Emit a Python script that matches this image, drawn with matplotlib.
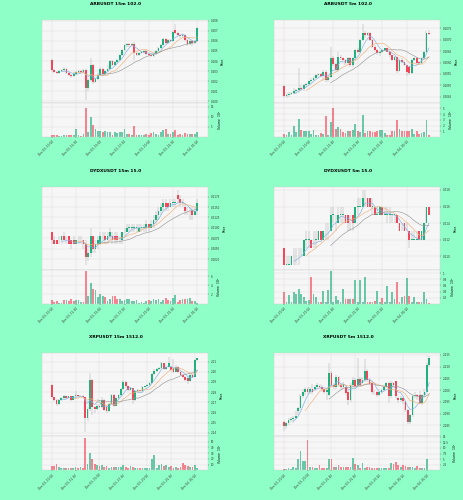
import matplotlib
matplotlib.use('Agg')
import matplotlib.pyplot as plt
import numpy as np
import pandas as pd

BG = '#8effc6'
UP = '#1fb07e'
DOWN = '#f2475a'
WICK = '#a8a8a8'
MA_COLORS = ['#82b0e0', '#efb27c', '#9a9a9a']
MA_WINDOWS = [5, 10, 20]

# ---- ARBUSDT 15m (price in 1e-4) ----
arb15_open = [2041, 2031, 2029, 2028, 2030, 2031, 2032, 2028, 2026, 2025, 2027, 2029, 2030, 2029, 2031, 2013, 2021, 2036, 2019, 2022,
              2026, 2032, 2027, 2030, 2032, 2040, 2036, 2039, 2041, 2046, 2051, 2056, 2057, 2056, 2057, 2048, 2046, 2048, 2049, 2050,
              2047, 2046, 2045, 2047, 2050, 2053, 2056, 2062, 2058, 2061, 2060, 2071, 2068, 2066, 2065, 2066, 2061, 2057, 2060, 2058, 2060]
arb15_close = [2031, 2029, 2028, 2030, 2031, 2032, 2028, 2026, 2025, 2027, 2029, 2030, 2029, 2031, 2013, 2021, 2036, 2019, 2022, 2026,
               2032, 2027, 2030, 2032, 2040, 2036, 2039, 2041, 2046, 2051, 2056, 2057, 2056, 2057, 2048, 2046, 2048, 2049, 2050, 2047,
               2046, 2045, 2047, 2050, 2053, 2056, 2062, 2058, 2061, 2060, 2069, 2068, 2066, 2065, 2066, 2061, 2057, 2060, 2058, 2060, 2073]
arb15_high = [2042, 2032, 2030, 2031, 2032, 2034, 2033, 2029, 2027, 2028, 2030, 2031, 2031, 2032, 2032, 2023, 2043, 2037, 2024, 2027,
              2034, 2033, 2031, 2036, 2041, 2041, 2040, 2042, 2047, 2052, 2057, 2058, 2058, 2058, 2059, 2049, 2049, 2050, 2051, 2051,
              2048, 2047, 2048, 2051, 2054, 2057, 2063, 2063, 2062, 2062, 2070, 2077, 2069, 2067, 2067, 2067, 2062, 2061, 2061, 2061, 2074]
arb15_low = [2030, 2028, 2027, 2027, 2029, 2030, 2027, 2025, 2023, 2024, 2026, 2028, 2028, 2028, 2001, 2010, 2020, 2017, 2018, 2021,
             2025, 2026, 2026, 2029, 2031, 2035, 2035, 2038, 2040, 2045, 2050, 2054, 2054, 2055, 2041, 2045, 2045, 2047, 2048, 2046,
             2045, 2044, 2044, 2046, 2049, 2052, 2055, 2057, 2057, 2059, 2059, 2067, 2065, 2063, 2064, 2060, 2055, 2056, 2055, 2057, 2059]
arb15_vol = [1.2, 1.2, 1.0, 0.6, 0.4, 1.0, 1.1, 1.0, 0.8, 0.9, 3.8, 1.0, 0.6, 1.5, 14.2, 2.3, 10.0, 5.8, 3.8, 3.0,
             2.8, 2.3, 3.0, 2.6, 2.3, 1.2, 2.3, 1.8, 2.7, 2.3, 4.2, 1.5, 1.5, 1.2, 5.7, 1.2, 0.9, 1.2, 1.0, 1.5,
             0.8, 2.0, 2.6, 1.5, 0.8, 2.3, 3.5, 4.2, 1.5, 1.5, 2.3, 3.3, 1.2, 1.5, 1.2, 2.2, 1.5, 1.5, 1.5, 1.5, 2.3]

# ---- ARBUSDT 5m (price in 1e-4) ----
arb5_open = [2049.6, 2045.1, 2045.6, 2046.3, 2046.5, 2047.5, 2048.1, 2049.0, 2048.5, 2050.0,
             2050.7, 2051.8, 2052.5, 2053.4, 2054.4, 2054.9, 2054.0, 2055.9, 2052.2, 2053.7,
             2062.2, 2059.3, 2056.6, 2062.5, 2061.8, 2061.0, 2059.6, 2061.8, 2058.8, 2061.8,
             2065.4, 2064.7, 2069.9, 2073.2, 2072.1, 2073.1, 2070.1, 2066.9, 2065.7, 2064.0,
             2064.7, 2065.7, 2066.2, 2064.7, 2063.2, 2061.0, 2062.5, 2056.3, 2061.3, 2060.3,
             2058.8, 2058.0, 2055.5, 2061.0, 2062.2, 2060.3, 2059.6, 2062.2, 2064.7, 2073.1]
arb5_high = [2050.0, 2046.5, 2047.0, 2047.0, 2049.0, 2048.5, 2057.4, 2050.0, 2050.5, 2051.0,
             2052.0, 2053.0, 2054.0, 2055.0, 2055.5, 2055.5, 2056.5, 2056.5, 2054.5, 2067.0,
             2063.0, 2060.0, 2064.7, 2063.5, 2062.5, 2061.5, 2062.5, 2062.5, 2062.5, 2066.0,
             2066.5, 2070.5, 2076.9, 2074.0, 2073.5, 2073.5, 2070.5, 2067.5, 2066.0, 2065.0,
             2066.0, 2066.5, 2066.5, 2065.0, 2063.5, 2063.0, 2063.0, 2062.0, 2062.0, 2060.5,
             2059.0, 2058.5, 2061.5, 2062.5, 2062.5, 2060.5, 2062.5, 2065.0, 2074.0, 2074.5]
arb5_low = [2045.0, 2044.5, 2045.0, 2045.5, 2046.0, 2046.0, 2046.5, 2047.5, 2047.5, 2049.0,
            2050.0, 2051.0, 2052.0, 2053.0, 2053.8, 2053.5, 2052.0, 2051.5, 2051.5, 2053.0,
            2058.5, 2056.0, 2056.0, 2061.0, 2060.5, 2059.0, 2059.0, 2058.0, 2058.0, 2061.0,
            2064.0, 2064.0, 2069.5, 2071.0, 2071.5, 2069.5, 2066.5, 2065.0, 2063.5, 2063.0,
            2064.0, 2065.0, 2064.5, 2062.5, 2060.5, 2060.5, 2055.5, 2056.0, 2060.0, 2058.5,
            2054.0, 2054.5, 2055.0, 2060.5, 2059.0, 2059.0, 2059.0, 2062.0, 2064.5, 2072.0]
arb5_close = [2045.1, 2045.6, 2046.3, 2046.5, 2047.5, 2048.1, 2049.0, 2048.5, 2050.0, 2050.7,
              2051.8, 2052.5, 2053.4, 2054.4, 2054.9, 2054.0, 2055.9, 2052.2, 2053.7, 2062.2,
              2059.3, 2056.6, 2062.5, 2061.8, 2061.0, 2059.6, 2061.8, 2058.8, 2061.8, 2065.4,
              2064.7, 2069.9, 2072.8, 2072.1, 2073.1, 2070.1, 2066.9, 2065.7, 2064.0, 2064.7,
              2065.7, 2066.2, 2064.7, 2063.2, 2061.0, 2062.5, 2056.3, 2061.3, 2060.3, 2058.8,
              2055.9, 2055.5, 2061.0, 2062.2, 2059.6, 2059.6, 2062.2, 2064.7, 2073.1, 2072.5]
arb5_vol = [0.5, 0.4, 0.8, 0.4, 2.0, 0.8, 3.2, 1.2, 1.1, 1.1, 1.0, 0.5, 1.2, 0.4, 0.3, 0.65, 0.5, 3.6, 0.3, 2.7,
            5.0, 1.35, 1.7, 1.35, 0.8, 0.65, 1.1, 1.1, 1.2, 2.2, 1.0, 0.8, 3.8, 0.7, 1.0, 1.0, 0.8, 0.8, 1.0, 1.2,
            1.2, 0.7, 0.3, 0.3, 1.0, 1.0, 2.9, 1.35, 1.1, 1.1, 1.1, 1.1, 1.35, 0.5, 1.1, 0.5, 0.65, 0.8, 3.0, 0.3]

# ---- DYDXUSDT 15m (price in 1e-3) ----
dydx15_open = [209, 207, 207, 207, 207, 208, 207, 208, 207, 207, 206, 207, 207, 207, 206, 203, 204, 208, 205, 206,
               206, 208, 208, 207, 208, 208, 208, 208, 207, 207, 209, 209, 210, 210, 210, 210, 209, 210, 210, 210,
               211, 210, 211, 212, 213, 214, 215, 216, 216, 215, 216, 216, 218, 217, 216, 215, 214, 214, 214, 213, 214]
dydx15_close = [207, 206, 206, 207, 208, 207, 207, 206, 206, 206, 207, 207, 207, 206, 203, 204, 208, 205, 206, 207,
                208, 208, 207, 208, 209, 207, 207, 207, 207, 209, 209, 210, 210, 210, 210, 210, 210, 210, 210, 211,
                210, 211, 212, 213, 214, 215, 216, 215, 215, 216, 216, 216, 217, 216, 216, 214, 214, 214, 213, 214, 216]
dydx15_high = [209, 208, 207, 208, 208, 209, 208, 208, 207, 208, 207, 208, 208, 207, 207, 205, 210, 208, 207, 208,
               209, 209, 209, 209, 210, 209, 209, 209, 208, 209, 210, 211, 211, 211, 211, 211, 211, 211, 211, 212,
               211, 212, 213, 214, 215, 216, 217, 217, 216, 217, 217, 217, 219, 218, 217, 216, 215, 215, 215, 215, 217]
dydx15_low = [206, 206, 206, 206, 206, 207, 206, 206, 205, 206, 206, 206, 206, 205, 201, 202, 203, 204, 204, 205,
              206, 207, 206, 206, 207, 206, 206, 206, 206, 206, 208, 209, 209, 209, 209, 209, 209, 209, 209, 209,
              209, 210, 210, 211, 212, 213, 214, 214, 214, 215, 215, 215, 216, 215, 215, 213, 213, 212, 212, 213, 213]
dydx15_vol = [0.9, 0.3, 0.6, 0.2, 0.2, 0.9, 0.9, 0.6, 1.0, 0.5, 0.8, 0.8, 0.3, 0.4, 7.2, 1.6, 4.5, 3.2, 3.0, 1.5,
              2.2, 1.7, 1.4, 0.6, 1.0, 1.6, 1.7, 1.0, 1.0, 0.5, 0.9, 1.0, 1.0, 0.5, 0.6, 0.8, 0.2, 0.4, 0.2, 0.5,
              0.9, 0.5, 1.0, 0.9, 1.0, 0.4, 0.9, 1.3, 0.8, 0.6, 1.3, 1.8, 0.3, 0.7, 1.0, 1.0, 1.1, 1.3, 0.5, 0.6, 0.1]

# ---- DYDXUSDT 5m (price in 1e-3) ----
dydx5_open = [211, 209, 209, 209, 210, 210, 210, 210, 210, 212, 212, 212, 211, 212, 212, 213, 212, 213, 213, 213,
              215, 214, 214, 215, 215, 215, 215, 214, 215, 214, 216, 216, 216, 217, 217, 217, 216, 216, 215, 215,
              216, 215, 215, 215, 215, 215, 215, 214, 213, 214, 213, 213, 212, 212, 212, 213, 212, 212, 214, 216]
dydx5_close = [209, 209, 209, 210, 210, 210, 210, 210, 212, 212, 212, 211, 211, 212, 213, 212, 213, 213, 213, 215,
               215, 214, 215, 215, 215, 214, 214, 214, 214, 216, 216, 216, 217, 217, 216, 216, 216, 215, 215, 216,
               215, 215, 215, 215, 215, 215, 214, 213, 213, 213, 213, 212, 212, 212, 212, 212, 213, 214, 216, 215]
dydx5_high = [211, 210, 210, 210, 211, 211, 211, 211, 212, 213, 213, 212, 213, 213, 213, 213, 213, 214, 214, 216,
              216, 215, 216, 216, 216, 215, 215, 215, 215, 216, 217, 217, 218, 218, 217, 217, 217, 216, 216, 216,
              216, 216, 216, 216, 215, 215, 215, 214, 214, 214, 214, 213, 213, 213, 213, 213, 213, 214, 216, 216]
dydx5_low = [209, 209, 209, 209, 209, 209, 209, 210, 210, 211, 211, 211, 211, 211, 212, 212, 212, 212, 212, 213,
             214, 213, 214, 214, 214, 214, 213, 213, 213, 214, 215, 216, 216, 216, 216, 216, 215, 215, 215, 215,
             215, 215, 214, 214, 214, 214, 214, 213, 213, 213, 213, 211, 212, 212, 212, 212, 212, 212, 214, 215]
dydx5_vol = [0.4, 0.05, 0.3, 0.05, 0.37, 0.32, 0.47, 0.31, 0.23, 0.1, 0.13, 0.88, 0.31, 0.23, 0.05, 0.07, 0.43, 0.05, 0.44, 1.08,
             0.05, 0.25, 0.13, 0.05, 0.49, 0.17, 0.17, 0.17, 0.17, 0.77, 0.05, 0.79, 0.07, 0.88, 0.05, 0.07, 0.07, 0.1, 0.43, 0.05,
             0.2, 0.07, 0.57, 0.05, 0.37, 0.17, 0.7, 0.07, 0.23, 0.25, 0.83, 0.26, 0.05, 0.23, 0.07, 0.07, 0.05, 0.4, 0.15, 0.02]

# ---- XRPUSDT 15m (price in 1e-3) ----
xrp15_open = [2187.2, 2174.8, 2172.5, 2168.3, 2171.9, 2174.2, 2175.8, 2174.2, 2175.8, 2172.5,
              2175.8, 2176.8, 2175.8, 2176.4, 2174.8, 2154.6, 2163.7, 2192.1, 2165.4, 2163.7,
              2166.7, 2165.4, 2171.9, 2165.4, 2161.8, 2168.6, 2177.4, 2166.7, 2174.2, 2177.4,
              2182.9, 2189.8, 2185.6, 2182.3, 2183.9, 2171.9, 2180.7, 2181.7, 2180.7, 2184.9,
              2185.6, 2187.2, 2188.8, 2197.6, 2201.2, 2202.5, 2203.5, 2208.4, 2202.5, 2205.1,
              2205.1, 2203.5, 2200.2, 2205.1, 2200.2, 2197.0, 2195.3, 2193.8, 2191.4, 2197.0,
              2195.3, 2211.6]
xrp15_close = [2174.8, 2172.5, 2168.3, 2172.5, 2174.2, 2176.4, 2174.2, 2175.8, 2171.9, 2175.8,
               2177.4, 2175.8, 2176.4, 2175.1, 2154.6, 2163.7, 2192.1, 2165.4, 2163.7, 2166.7,
               2165.4, 2171.9, 2162.8, 2161.8, 2168.6, 2177.4, 2166.7, 2174.2, 2177.4, 2182.9,
               2189.8, 2185.6, 2182.3, 2183.9, 2171.9, 2180.7, 2181.7, 2180.7, 2184.9, 2185.6,
               2187.2, 2188.8, 2197.6, 2201.2, 2202.5, 2203.5, 2208.4, 2202.5, 2205.1, 2208.4,
               2201.9, 2200.2, 2205.1, 2200.2, 2197.0, 2195.3, 2192.1, 2191.4, 2197.0, 2195.3,
               2211.6, 2213.3]
xrp15_high = [2188.0, 2175.5, 2173.0, 2173.0, 2175.0, 2177.0, 2176.5, 2176.5, 2176.5, 2176.5,
              2180.7, 2177.5, 2177.5, 2177.0, 2175.5, 2165.0, 2199.3, 2193.0, 2166.5, 2168.0,
              2168.0, 2175.0, 2173.0, 2166.0, 2169.5, 2178.5, 2178.0, 2175.0, 2178.5, 2184.0,
              2191.5, 2190.5, 2186.0, 2185.0, 2184.5, 2182.0, 2183.0, 2182.5, 2186.0, 2186.5,
              2188.0, 2190.0, 2198.5, 2202.5, 2204.0, 2205.0, 2209.5, 2209.0, 2206.0, 2214.9,
              2206.0, 2213.0, 2206.5, 2206.0, 2201.0, 2198.0, 2196.0, 2194.5, 2198.0, 2198.0,
              2212.5, 2214.0]
xrp15_low = [2174.0, 2171.5, 2166.0, 2167.5, 2171.0, 2173.5, 2173.5, 2173.5, 2171.0, 2172.0,
             2175.0, 2175.0, 2175.0, 2174.5, 2140.6, 2152.0, 2162.0, 2158.0, 2160.0, 2162.5,
             2164.0, 2164.5, 2161.5, 2159.5, 2161.0, 2167.5, 2165.5, 2166.0, 2173.5, 2176.5,
             2182.0, 2184.5, 2181.0, 2181.5, 2168.0, 2171.0, 2179.5, 2179.5, 2180.0, 2184.0,
             2185.0, 2186.5, 2188.0, 2196.5, 2200.0, 2201.5, 2202.5, 2201.5, 2201.5, 2204.0,
             2200.5, 2199.0, 2199.5, 2199.0, 2196.0, 2194.0, 2190.5, 2188.2, 2190.5, 2193.5,
             2194.5, 2210.5]
xrp15_vol = [7.3, 7.3, 10.9, 6.1, 3.6, 4.8, 3.6, 4.8, 3.6, 4.8, 6.1, 4.8, 6.1, 4.8, 55.8, 10.9, 30.3, 20.0, 10.9, 9.1,
             7.3, 8.5, 6.1, 7.3, 4.2, 6.1, 6.1, 6.1, 6.1, 6.1, 9.1, 6.1, 4.8, 7.3, 6.1, 4.8, 4.8, 3.6, 3.6, 4.8,
             3.6, 4.8, 19.4, 27.3, 4.8, 9.7, 10.9, 7.3, 9.7, 6.1, 7.3, 4.8, 6.1, 3.6, 6.1, 13.3, 9.1, 7.3, 6.1, 6.1,
             9.7, 4.2]

# ---- XRPUSDT 5m (price in 1e-3) ----
xrp5_open = [2186.2, 2184.8, 2186.0, 2187.1, 2187.7, 2188.1, 2190.9, 2192.3, 2197.6, 2199.0,
             2200.4, 2199.4, 2200.4, 2200.4, 2201.5, 2201.8, 2201.3, 2200.7, 2199.4, 2198.0,
             2207.5, 2202.3, 2201.3, 2205.5, 2202.3, 2201.3, 2201.5, 2199.4, 2195.9, 2202.3,
             2204.4, 2201.8, 2204.7, 2203.0, 2204.4, 2208.3, 2204.4, 2203.0, 2199.4, 2199.0,
             2198.0, 2199.0, 2200.1, 2201.5, 2203.0, 2197.3, 2203.2, 2203.7, 2196.6, 2195.6,
             2196.6, 2195.2, 2191.6, 2186.2, 2189.4, 2197.3, 2198.0, 2198.0, 2194.5, 2198.0,
             2199.4, 2210.8]
xrp5_close = [2184.8, 2186.0, 2187.1, 2187.7, 2188.1, 2188.8, 2192.3, 2197.6, 2199.0, 2200.4,
              2199.4, 2200.4, 2199.4, 2201.5, 2202.3, 2201.3, 2200.4, 2199.4, 2200.1, 2207.5,
              2202.3, 2201.3, 2205.5, 2202.3, 2201.3, 2202.7, 2198.7, 2195.9, 2202.3, 2204.4,
              2201.8, 2204.7, 2202.3, 2204.4, 2208.3, 2204.4, 2202.7, 2199.4, 2199.0, 2198.0,
              2199.0, 2200.1, 2201.5, 2203.0, 2197.3, 2203.2, 2202.3, 2197.3, 2195.6, 2196.6,
              2195.2, 2191.6, 2186.2, 2189.4, 2197.3, 2198.0, 2197.3, 2194.5, 2198.0, 2199.4,
              2210.8, 2213.6]
xrp5_high = [2187.0, 2186.5, 2188.0, 2188.5, 2189.0, 2190.9, 2193.0, 2198.5, 2200.5, 2201.5,
             2201.5, 2201.5, 2202.5, 2202.0, 2203.0, 2202.5, 2202.0, 2201.0, 2201.0, 2211.5,
             2208.0, 2203.0, 2206.5, 2206.0, 2203.0, 2203.5, 2202.0, 2200.0, 2203.0, 2205.5,
             2205.0, 2213.6, 2205.5, 2205.5, 2213.2, 2209.0, 2205.0, 2203.5, 2200.0, 2199.5,
             2199.5, 2200.5, 2202.0, 2203.5, 2203.5, 2204.0, 2203.5, 2204.0, 2197.0, 2197.5,
             2197.0, 2195.5, 2192.0, 2190.0, 2198.0, 2199.0, 2198.5, 2199.5, 2198.5, 2200.5,
             2211.5, 2214.5]
xrp5_low = [2182.4, 2183.5, 2185.0, 2186.5, 2186.0, 2187.5, 2189.5, 2191.5, 2196.5, 2198.0,
            2198.5, 2198.5, 2198.5, 2199.5, 2200.5, 2200.5, 2199.5, 2198.5, 2195.9, 2197.5,
            2201.5, 2200.5, 2200.5, 2201.5, 2200.0, 2200.5, 2198.0, 2193.8, 2195.0, 2201.5,
            2201.0, 2201.0, 2201.5, 2202.5, 2203.5, 2203.5, 2202.0, 2198.5, 2198.0, 2197.0,
            2197.5, 2198.5, 2199.5, 2201.0, 2194.7, 2196.5, 2201.5, 2196.5, 2194.5, 2195.0,
            2194.0, 2190.5, 2185.5, 2185.5, 2188.5, 2196.5, 2196.0, 2194.0, 2193.5, 2197.5,
            2199.0, 2210.0]
xrp5_vol = [0.75, 0.75, 1.0, 0.75, 1.5, 1.2, 4.9, 8.5, 4.0, 4.0, 13.7, 1.5, 1.5, 1.2, 0.9, 2.2, 0.9, 0.9, 0.9, 5.2,
            5.2, 1.5, 1.5, 2.2, 1.5, 1.5, 1.5, 1.5, 1.5, 5.5, 2.7, 2.2, 1.2, 3.3, 1.2, 1.5, 1.5, 1.2, 0.9, 0.9,
            0.9, 1.2, 1.0, 1.2, 1.0, 3.3, 3.0, 3.7, 2.4, 1.5, 2.5, 1.8, 1.5, 1.5, 1.5, 1.0, 1.8, 1.2, 1.2, 1.2,
            4.9, 0.3]

W, H = 464, 500


def box(x0, y0, w, h):
    return [x0 / W, 1 - (y0 + h) / H, w / W, h / H]


def style_axis(ax):
    ax.set_facecolor('#f6f6f6')
    ax.grid(True, color='#dcdcdc', linewidth=0.3)
    ax.set_axisbelow(True)
    for s in ax.spines.values():
        s.set_color('#cfcfcf')
        s.set_linewidth(0.3)
    ax.yaxis.tick_right()
    ax.yaxis.set_label_position('right')
    ax.tick_params(labelsize=2, length=1, width=0.3, pad=1, colors='#333333')


def panel(col, row, title, unit, o, h, l, c, vol, vol_exp, start, freq,
          price_ticks, price_fmt, price_lim, vol_ticks, vol_top):
    o, h, l, c = (np.array(a) * unit for a in (o, h, l, c))
    vol = np.array(vol)
    n = len(o)
    x = np.arange(n)
    up = c >= o
    colors = np.where(up, UP, DOWN)

    left = 42 + col * 232
    top = row * 500 / 3
    ax = fig.add_axes(box(left, top + 20, 166, 83))
    axv = fig.add_axes(box(left, top + 103, 166, 34), sharex=ax)
    style_axis(ax)
    style_axis(axv)

    ax.vlines(x, l, h, color=WICK, linewidth=0.35, zorder=2)
    min_body = (price_lim[1] - price_lim[0]) * 0.006
    body = np.maximum(np.abs(c - o), min_body)
    ax.bar(x, body, bottom=np.minimum(o, c), width=0.72, color=colors, linewidth=0, zorder=3)
    closes = pd.Series(c)
    for w, mc in zip(MA_WINDOWS, MA_COLORS):
        ax.plot(x, closes.rolling(w).mean(), color=mc, linewidth=0.45, zorder=4)

    ax.set_ylim(*price_lim)
    ax.set_yticks(price_ticks)
    ax.set_yticklabels([price_fmt % t for t in price_ticks])
    ax.set_ylabel('Price', fontsize=2.2, labelpad=2)
    ax.tick_params(axis='x', labelbottom=False, length=0)
    ax.set_xlim(-4.1, n + 3.5)

    axv.bar(x, vol, width=0.72, color=colors, alpha=0.65, linewidth=0)
    axv.set_ylim(0, vol_top)
    axv.set_yticks(vol_ticks)
    axv.set_yticklabels([('%g' % t) for t in vol_ticks])
    axv.set_ylabel('Volume  $10^{%d}$' % vol_exp, fontsize=2.2, labelpad=2)

    dates = pd.date_range(start, periods=n, freq=freq)
    ticks = list(range(0, n, 10))
    axv.set_xticks(ticks)
    axv.set_xticklabels([dates[i].strftime('%b %d, %H:%M') for i in ticks],
                        rotation=45, ha='right', rotation_mode='anchor')
    axv.tick_params(axis='x', labelsize=2.1)

    fig.text((116 + col * 232) / W, 1 - (top + 4) / H, title, ha='center', va='center',
             fontsize=3.2, fontweight='bold')


fig = plt.figure(figsize=(4.64, 5.0), dpi=100, facecolor=BG)

panel(0, 0, 'ARBUSDT 15m 102.0', 1e-4, arb15_open, arb15_high, arb15_low, arb15_close, arb15_vol, 5,
      '2025-12-03 10:00', '15min', [0.200 + 0.001 * k for k in range(9)], '%.3f', (0.19985, 0.20807),
      [5, 10, 15], 16.9)
panel(1, 0, 'ARBUSDT 5m 102.0', 1e-4, arb5_open, arb5_high, arb5_low, arb5_close, arb5_vol, 6,
      '2025-12-03 20:00', '5min', [0.2045 + 0.0005 * k for k in range(7)], '%.4f', (0.20422, 0.20787),
      [1, 2, 3, 4, 5], 5.95)
panel(0, 1, 'DYDXUSDT 15m 15.0', 1e-3, dydx15_open, dydx15_high, dydx15_low, dydx15_close, dydx15_vol, 5,
      '2025-12-03 10:00', '15min', [0.2025 + 0.0025 * k for k in range(7)], '%.4f', (0.19995, 0.2199),
      [2, 4, 6], 7.4)
panel(1, 1, 'DYDXUSDT 5m 15.0', 1e-3, dydx5_open, dydx5_high, dydx5_low, dydx5_close, dydx5_vol, 6,
      '2025-12-03 20:00', '5min', [0.210 + 0.002 * k for k in range(5)], '%.3f', (0.2084, 0.2184),
      [0.2, 0.4, 0.6, 0.8, 1.0], 1.12)
panel(0, 2, 'XRPUSDT 15m 1512.0', 1e-3, xrp15_open, xrp15_high, xrp15_low, xrp15_close, xrp15_vol, 4,
      '2025-12-03 10:00', '15min', [2.14 + 0.01 * k for k in range(8)], '%.2f', (2.1367, 2.2181),
      [10, 20, 30, 40, 50], 59.4)
panel(1, 2, 'XRPUSDT 5m 1512.0', 1e-3, xrp5_open, xrp5_high, xrp5_low, xrp5_close, xrp5_vol, 5,
      '2025-12-03 20:00', '5min', [2.185 + 0.005 * k for k in range(7)], '%.3f', (2.1803, 2.2157),
      [2.5, 5.0, 7.5, 10.0, 12.5, 15.0], 15.2)

fig.savefig('out.png', dpi=100, facecolor=BG)
